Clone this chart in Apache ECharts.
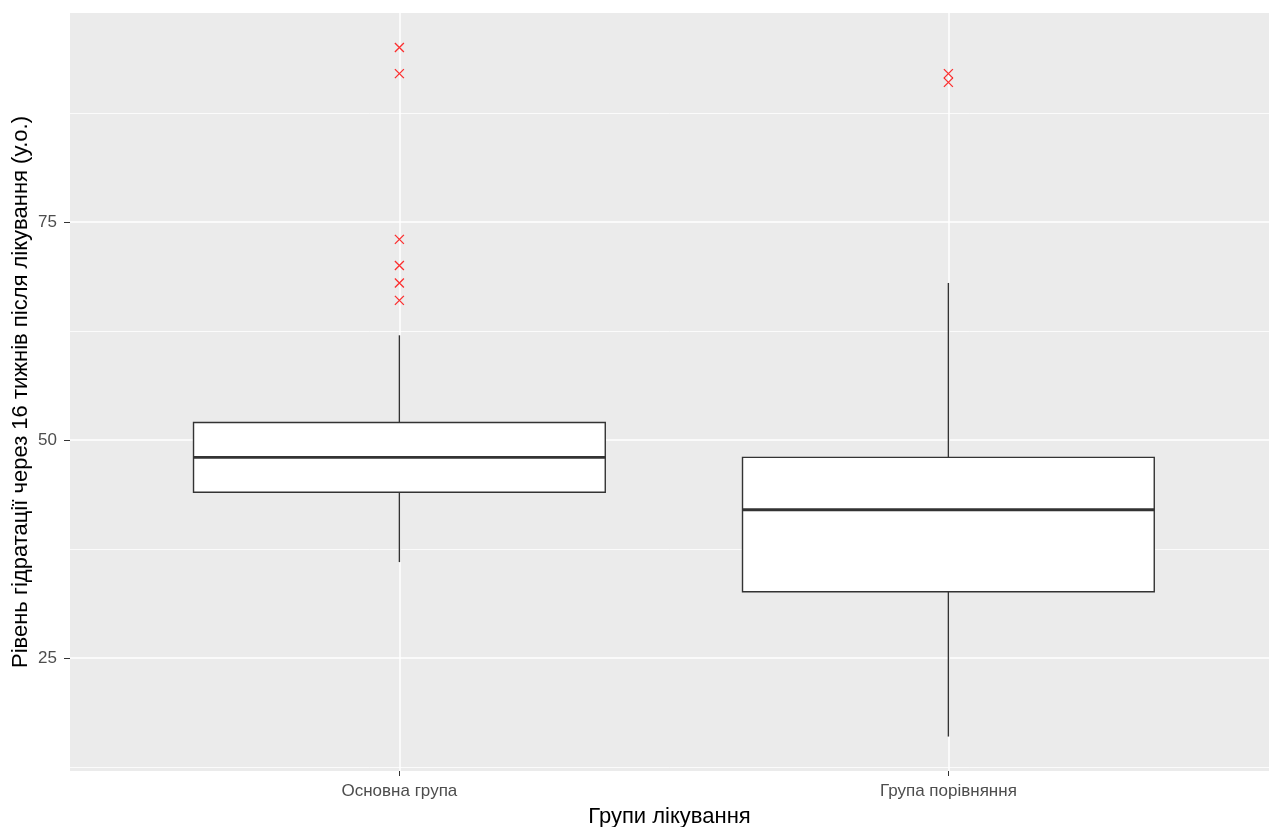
<!DOCTYPE html>
<html>
<head>
<meta charset="utf-8">
<script src="https://cdn.jsdelivr.net/npm/echarts@6/dist/echarts.min.js"></script>
<style>
  html, body { margin: 0; padding: 0; background: #fff; }
  #chart { width: 1269px; height: 827px; }
</style>
</head>
<body>
<div id="chart"></div>
<script>
// групи
const groups = ['Основна група', 'Група порівняння'];
// [позиція, нижній вус, Q1, медіана, Q3, верхній вус]
const boxStats = [
    [1, 36, 44, 48, 52, 62],
    [2, 16, 32.6, 42, 48, 68]
];
// викиди
const outliers = [
    [1, 95], [1, 92], [1, 73], [1, 70], [1, 68], [1, 66],
    [2, 92], [2, 91]
];
const yTicks = [25, 50, 75];
const yMinor = [12.5, 37.5, 62.5, 87.5];
const xTicks = [1, 2];

const chart = echarts.init(document.getElementById('chart'));
const txt = '#4D4D4D';
const font = 'Liberation Sans, Arial, sans-serif';

chart.setOption({
    animation: false,
    grid: {
        left: 70, top: 13, right: 0, height: 758,
        outerBoundsMode: 'none', containLabel: false,
        show: true, backgroundColor: '#EBEBEB', borderWidth: 0
    },
    xAxis: {
        type: 'value', min: 0.4, max: 2.584,
        name: 'Групи лікування', nameLocation: 'middle', nameGap: 35, nameMoveOverlap: false,
        nameTextStyle: { color: '#000', fontSize: 22, fontFamily: font },
        axisLine: { show: false },
        axisTick: { show: true, customValues: xTicks, length: 5, lineStyle: { color: '#333', width: 1 } },
        axisLabel: {
            customValues: xTicks, color: txt, fontSize: 17, fontFamily: font, margin: 12,
            formatter: v => groups[Math.round(v) - 1] || ''
        },
        splitLine: { show: true, lineStyle: { color: '#fff', width: 1.5 } }
    },
    yAxis: {
        type: 'value', min: 12.05, max: 98.95,
        name: 'Рівень гідратації через 16 тижнів після лікування (у.о.)',
        nameLocation: 'middle', nameGap: 38, nameMoveOverlap: false,
        nameTextStyle: { color: '#000', fontSize: 22, fontFamily: font },
        axisLine: { show: false },
        axisTick: { show: true, customValues: yTicks, length: 6, lineStyle: { color: '#333', width: 1 } },
        axisLabel: { customValues: yTicks, color: txt, fontSize: 17, fontFamily: font, margin: 13 },
        splitLine: { show: true, lineStyle: { color: '#fff', width: 1.5 } }
    },
    series: [
        {
            type: 'line', data: [], silent: true, z: 0,
            markLine: {
                silent: true, symbol: 'none', label: { show: false }, z: 0,
                lineStyle: { color: '#fff', width: 0.8, type: 'solid' },
                data: yMinor.map(v => ({ yAxis: v }))
            }
        },
        {
            type: 'custom', z: 3,
            data: boxStats,
            encode: { x: 0, y: [1, 2, 3, 4, 5] },
            renderItem: function (params, api) {
                const x = api.value(0);
                const half = api.size([0.375, 0])[0];
                const lo = api.coord([x, api.value(1)]);
                const q1 = api.coord([x, api.value(2)]);
                const med = api.coord([x, api.value(3)]);
                const q3 = api.coord([x, api.value(4)]);
                const hi = api.coord([x, api.value(5)]);
                const stroke = { stroke: '#333', lineWidth: 1.4 };
                return {
                    type: 'group',
                    children: [
                        { type: 'line', shape: { x1: lo[0], y1: lo[1], x2: q1[0], y2: q1[1] }, style: stroke },
                        { type: 'line', shape: { x1: q3[0], y1: q3[1], x2: hi[0], y2: hi[1] }, style: stroke },
                        { type: 'rect', shape: { x: q3[0] - half, y: q3[1], width: half * 2, height: q1[1] - q3[1] },
                          style: { fill: '#fff', stroke: '#333', lineWidth: 1.4 } },
                        { type: 'line', shape: { x1: med[0] - half, y1: med[1], x2: med[0] + half, y2: med[1] },
                          style: { stroke: '#333', lineWidth: 2.8 } }
                    ]
                };
            }
        },
        {
            type: 'scatter', z: 4,
            data: outliers,
            symbol: 'path://M0,0L10,10M10,0L0,10',
            symbolSize: 9,
            itemStyle: { color: 'transparent', borderColor: '#FF0000', borderWidth: 1.3 }
        }
    ]
});
</script>
</body>
</html>
